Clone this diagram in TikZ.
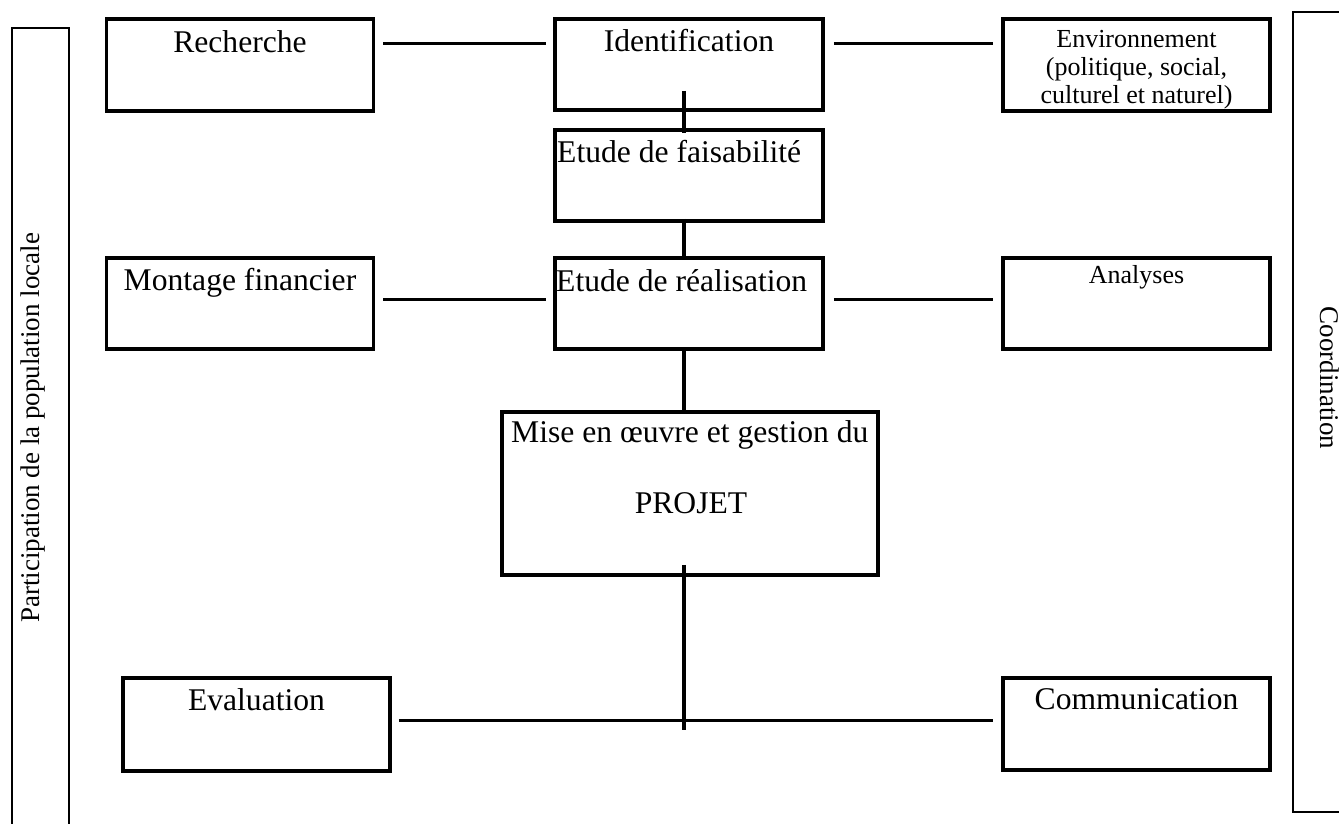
\documentclass[tikz,border=0pt]{standalone}
\usepackage{fontspec}
\setmainfont{Liberation Serif}
\usetikzlibrary{calc}
\tikzset{
  box/.style={draw, line width=3.5pt, rectangle, inner sep=0pt, minimum width=267pt, minimum height=92pt},
  bar/.style={draw, line width=2.8pt},
  conn/.style={line width=3.5pt},
  txt/.style={inner sep=0pt, font=\fontsize{31.6}{38}\selectfont},
  stxt/.style={inner sep=0pt, font=\fontsize{26}{28}\selectfont},
  vtxt/.style={inner sep=0pt, font=\fontsize{27}{32}\selectfont},
}
\begin{document}
\begin{tikzpicture}[x=1pt,y=-1pt]
\clip (0,0) rectangle (1339,823);
\fill[white] (0,0) rectangle (1339,823);
% side bars
\draw[bar] (12,840) -- (12,28) -- (69,28) -- (69,840);
\draw[bar] (1360,12) -- (1293,12) -- (1293,812) -- (1360,812);
\node[vtxt, rotate=90, anchor=base] (part) at (39,428) {Participation de la population locale};
\node[vtxt, rotate=-90, anchor=base] (coord) at (1320,378) {Coordination};
% boxes
\node[box] (rech) at (240,65) {};
\node[box, minimum width=268pt, minimum height=91pt] (ident) at (689,64.5) {};
\node[box] (env) at (1136.5,65) {};
\node[box, minimum width=268pt, minimum height=91pt] (fais) at (689,175.5) {};
\node[box, minimum height=91pt] (mont) at (240,303.5) {};
\node[box, minimum width=268pt, minimum height=91pt] (real) at (689,303.5) {};
\node[box, minimum height=91pt] (anal) at (1136.5,303.5) {};
\node[box, minimum width=376pt, minimum height=163pt] (mise) at (690,493.5) {};
\node[box, minimum height=93pt] (eval) at (256.5,724.5) {};
\node[box] (comm) at (1136.5,724) {};
% texts
\node[txt, anchor=base] at (240,52) {Recherche};
\node[txt, anchor=base] at (689,51) {Identification};
\node[stxt, anchor=base] at (1136.5,47) {Environnement};
\node[stxt, anchor=base] at (1136.5,75) {(politique, social,};
\node[stxt, anchor=base] at (1136.5,103) {culturel et naturel)};
\node[txt, anchor=base west] at (557,162) {Etude de faisabilité};
\node[txt, anchor=base] at (240,290) {Montage financier};
\node[txt, anchor=base west] at (556,291) {Etude de réalisation};
\node[stxt, anchor=base] at (1136.5,283) {Analyses};
\node[txt, anchor=base west] at (511,442) {Mise en œuvre et gestion du};
\node[txt, anchor=base] at (691,513) {PROJET};
\node[txt, anchor=base] at (256.5,710) {Evaluation};
\node[txt, anchor=base] at (1136.5,709) {Communication};
% connectors
\coordinate (spine) at (684,730);
\draw[conn] ([xshift=8pt,yshift=-26pt]rech.north east) -- ([xshift=-7pt,yshift=-26pt]ident.north west);
\draw[conn] ([xshift=9pt,yshift=-26pt]ident.north east) -- ([xshift=-8pt,yshift=-26pt]env.north west);
\draw[conn] ([xshift=8pt,yshift=-43pt]mont.north east) -- ([xshift=-7pt,yshift=-43pt]real.north west);
\draw[conn] ([xshift=9pt,yshift=-43pt]real.north east) -- ([xshift=-8pt,yshift=-43pt]anal.north west);
\draw[conn] ([xshift=-5pt,yshift=21pt]ident.south) -- ([xshift=-5pt,yshift=-5pt]fais.north);
\draw[conn] ([xshift=-5pt,yshift=4pt]fais.south) -- ([xshift=-5pt]real.north);
\draw[conn] ([xshift=-5pt]real.south) -- ([xshift=-6pt]mise.north);
\draw[conn] ([xshift=-6pt,yshift=12pt]mise.south) -- (spine);
\draw[conn] ([xshift=7pt,yshift=-44pt]eval.north east) -- ([xshift=-8pt,yshift=-44pt]comm.north west);
\end{tikzpicture}
\end{document}
